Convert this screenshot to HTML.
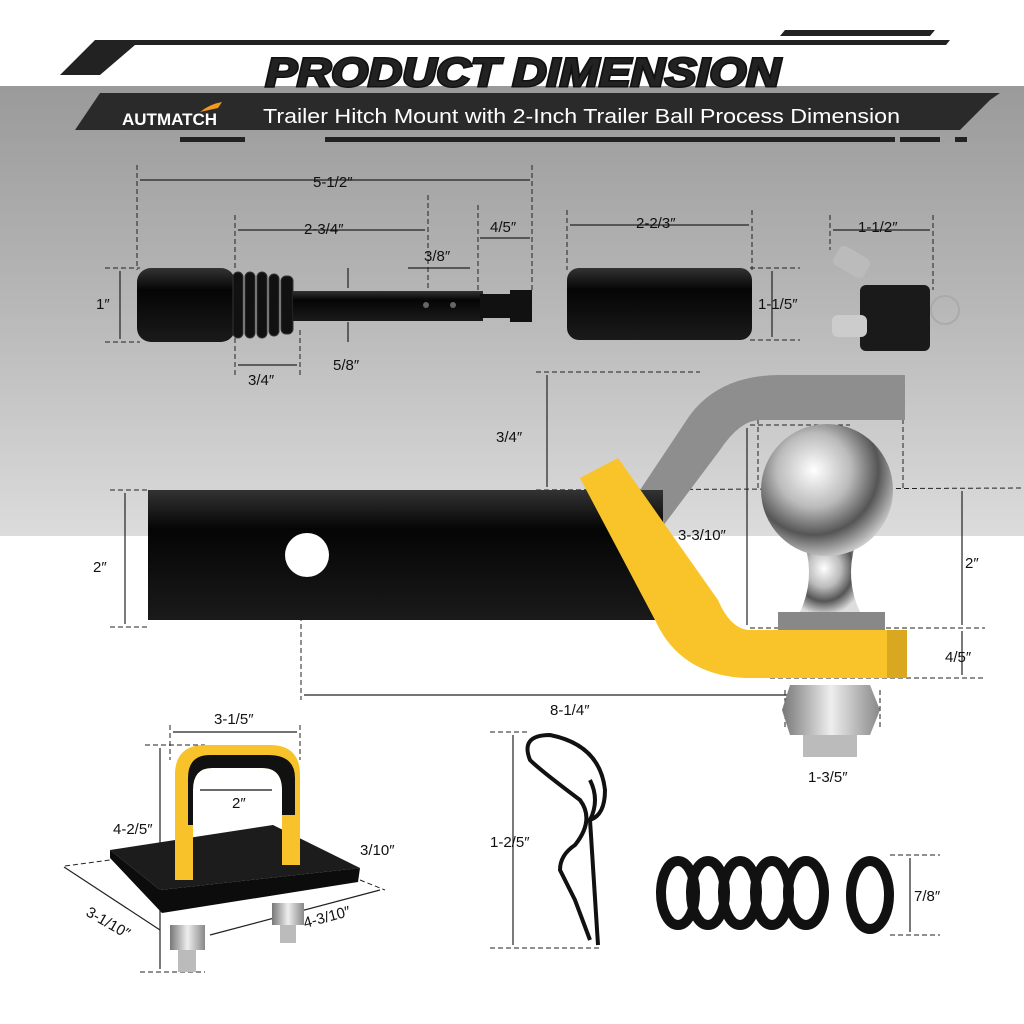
<!DOCTYPE html>
<html><head><meta charset="utf-8"><style>
html,body{margin:0;padding:0;background:#fff}
svg{display:block}
text{font-family:"Liberation Sans",sans-serif}
</style></head><body>
<svg width="1024" height="1024" viewBox="0 0 1024 1024" xmlns="http://www.w3.org/2000/svg">
<defs>
<linearGradient id="bg" x1="0" y1="0" x2="0" y2="1">
<stop offset="0" stop-color="#9a9a9a"/><stop offset="0.5" stop-color="#b8b8b8"/><stop offset="1" stop-color="#dcdcdc"/></linearGradient>
<radialGradient id="ball" cx="0.4" cy="0.35" r="0.7"><stop offset="0" stop-color="#fff"/><stop offset="0.4" stop-color="#bbb"/><stop offset="0.7" stop-color="#555"/><stop offset="1" stop-color="#ddd"/></radialGradient>
<linearGradient id="blk" x1="0" y1="0" x2="0" y2="1"><stop offset="0" stop-color="#333"/><stop offset="0.3" stop-color="#050505"/><stop offset="1" stop-color="#1a1a1a"/></linearGradient>
<linearGradient id="nut" x1="0" y1="0" x2="1" y2="0"><stop offset="0" stop-color="#777"/><stop offset="0.5" stop-color="#eee"/><stop offset="1" stop-color="#888"/></linearGradient>
</defs>
<rect x="0" y="86" width="1024" height="450" fill="url(#bg)"/>
<polygon points="60,75 95,40 950,40 946,45 135,45 100,75" fill="#222"/>
<polygon points="780,36 785,30 935,30 930,36" fill="#222"/>
<polygon points="75,130 100,93 1000,93 990,100 960,130" fill="#2a2a2a"/>
<rect x="180" y="137" width="65" height="5" fill="#222"/>
<rect x="325" y="137" width="570" height="5" fill="#222"/>
<rect x="900" y="137" width="40" height="5" fill="#222"/>
<rect x="955" y="137" width="12" height="5" fill="#222"/>
<text x="523" y="86" text-anchor="middle" font-size="40" font-weight="bold" font-style="italic" fill="#111" stroke="#111" stroke-width="3" textLength="515" lengthAdjust="spacingAndGlyphs">PRODUCT DIMENSION</text>
<text x="523" y="86" text-anchor="middle" font-size="40" font-weight="bold" font-style="italic" fill="#222" textLength="515" lengthAdjust="spacingAndGlyphs">PRODUCT DIMENSION</text>
<text x="122" y="125" font-size="17" font-weight="bold" fill="#fff">AUTMATCH</text>
<path d="M200,112 q10,-8 22,-10 l-4,6 z" fill="#f39a1e"/>
<text x="263" y="123" font-size="20" fill="#fff" textLength="637" lengthAdjust="spacingAndGlyphs">Trailer Hitch Mount with 2-Inch Trailer Ball Process Dimension</text>

<g stroke="#222" stroke-width="1" stroke-dasharray="5,3" fill="none">
<line x1="137" y1="165" x2="137" y2="270"/><line x1="532" y1="165" x2="532" y2="290"/>
<line x1="235" y1="215" x2="235" y2="270"/><line x1="428" y1="195" x2="428" y2="290"/>
<line x1="478" y1="205" x2="478" y2="290"/>
<line x1="105" y1="268" x2="140" y2="268"/><line x1="105" y1="342" x2="140" y2="342"/>
<line x1="235" y1="330" x2="235" y2="375"/><line x1="300" y1="330" x2="300" y2="375"/>
<line x1="567" y1="210" x2="567" y2="270"/><line x1="752" y1="210" x2="752" y2="270"/>
<line x1="750" y1="268" x2="800" y2="268"/><line x1="750" y1="340" x2="800" y2="340"/>
<line x1="830" y1="215" x2="830" y2="250"/><line x1="933" y1="215" x2="933" y2="290"/>
<line x1="536" y1="372" x2="700" y2="372"/><line x1="536" y1="490" x2="1024" y2="488"/>
<line x1="110" y1="490" x2="150" y2="490"/><line x1="110" y1="627" x2="150" y2="627"/>
<line x1="758" y1="395" x2="758" y2="488"/><line x1="903" y1="395" x2="903" y2="488"/>
<line x1="750" y1="425" x2="850" y2="425"/>
<line x1="750" y1="628" x2="985" y2="628"/>
<line x1="770" y1="678" x2="985" y2="678"/>
<line x1="301" y1="560" x2="301" y2="700"/>
<line x1="785" y1="690" x2="785" y2="730"/><line x1="880" y1="690" x2="880" y2="730"/>
<line x1="490" y1="732" x2="530" y2="732"/><line x1="490" y1="948" x2="600" y2="948"/>
<line x1="890" y1="855" x2="940" y2="855"/><line x1="890" y1="935" x2="940" y2="935"/>
<line x1="170" y1="725" x2="170" y2="760"/><line x1="300" y1="725" x2="300" y2="760"/>
<line x1="145" y1="745" x2="205" y2="745"/><line x1="140" y1="972" x2="205" y2="972"/>
<line x1="65" y1="866" x2="110" y2="860"/><line x1="360" y1="880" x2="385" y2="890"/>
</g>
<g stroke="#222" stroke-width="1.2" fill="none">
<line x1="140" y1="180" x2="530" y2="180"/><line x1="238" y1="230" x2="425" y2="230"/>
<line x1="480" y1="238" x2="530" y2="238"/><line x1="408" y1="268" x2="470" y2="268"/>
<line x1="120" y1="271" x2="120" y2="339"/><line x1="238" y1="365" x2="297" y2="365"/>
<line x1="348" y1="268" x2="348" y2="288"/><line x1="348" y1="322" x2="348" y2="342"/>
<line x1="570" y1="225" x2="749" y2="225"/><line x1="772" y1="271" x2="772" y2="337"/>
<line x1="833" y1="230" x2="930" y2="230"/>
<line x1="547" y1="375" x2="547" y2="487"/><line x1="125" y1="493" x2="125" y2="624"/>
<line x1="761" y1="405" x2="900" y2="405"/><line x1="747" y1="428" x2="747" y2="625"/>
<line x1="962" y1="491" x2="962" y2="625"/><line x1="962" y1="631" x2="962" y2="675"/>
<line x1="304" y1="695" x2="830" y2="695"/>
<line x1="513" y1="735" x2="513" y2="945"/><line x1="910" y1="858" x2="910" y2="932"/>
<line x1="173" y1="732" x2="297" y2="732"/><line x1="160" y1="748" x2="160" y2="969"/>
<line x1="200" y1="790" x2="272" y2="790" stroke="#111"/>
<line x1="64" y1="867" x2="160" y2="930"/><line x1="210" y1="935" x2="380" y2="890"/>
</g>
<g font-size="15" fill="#111">
<text x="313" y="187">5-1/2″</text><text x="304" y="234">2-3/4″</text>
<text x="490" y="232">4/5″</text><text x="424" y="261">3/8″</text>
<text x="96" y="309">1″</text><text x="248" y="385">3/4″</text><text x="333" y="370">5/8″</text>
<text x="636" y="228">2-2/3″</text><text x="758" y="309">1-1/5″</text><text x="858" y="232">1-1/2″</text>
<text x="496" y="442">3/4″</text><text x="93" y="572">2″</text>
<text x="822" y="400">2″</text><text x="678" y="540">3-3/10″</text>
<text x="965" y="568">2″</text><text x="945" y="662">4/5″</text>
<text x="550" y="715">8-1/4″</text><text x="808" y="782">1-3/5″</text>
<text x="490" y="847">1-2/5″</text><text x="914" y="901">7/8″</text>
<text x="214" y="724">3-1/5″</text><text x="113" y="834">4-2/5″</text>
<text x="232" y="808">2″</text><text x="360" y="855">3/10″</text>
<text x="85" y="915" transform="rotate(30 85 915)">3-1/10″</text>
<text x="305" y="928" transform="rotate(-15 305 928)">4-3/10″</text>
</g>
<rect x="137" y="268" width="98" height="74" rx="14" fill="url(#blk)"/>
<g fill="#111" stroke="#333"><rect x="233" y="272" width="10" height="66" rx="5"/><rect x="245" y="272" width="10" height="66" rx="5"/><rect x="257" y="272" width="10" height="66" rx="5"/><rect x="269" y="274" width="10" height="62" rx="5"/><rect x="281" y="276" width="12" height="58" rx="5"/></g>
<rect x="293" y="291" width="190" height="30" fill="url(#blk)"/>
<rect x="480" y="294" width="30" height="24" fill="#111"/><rect x="510" y="290" width="22" height="32" fill="#111"/>
<circle cx="426" cy="305" r="3" fill="#666"/><circle cx="453" cy="305" r="3" fill="#666"/>
<rect x="567" y="268" width="185" height="72" rx="12" fill="url(#blk)"/>
<rect x="860" y="285" width="70" height="66" rx="6" fill="#1a1a1a"/>
<circle cx="945" cy="310" r="14" fill="none" stroke="#aaa" stroke-width="2"/>
<rect x="835" y="250" width="35" height="22" rx="6" fill="#bbb" transform="rotate(30 850 260)"/>
<rect x="832" y="315" width="35" height="22" rx="6" fill="#ccc"/>
<path d="M640,490 L690,415 Q720,375 780,375 L905,375 L905,420 L760,420 Q740,420 720,450 L660,530 Z" fill="#8e8e8e"/>
<rect x="148" y="490" width="515" height="130" fill="url(#blk)"/>
<circle cx="307" cy="555" r="22" fill="#fff"/>
<rect x="778" y="612" width="107" height="18" fill="#888"/>
<path d="M805,545 Q815,580 800,612 L860,612 Q845,580 855,545 Z" fill="url(#ball)"/>
<circle cx="827" cy="490" r="66" fill="url(#ball)"/>
<path d="M580,478 L618,458 L718,600 Q730,628 748,630 L907,630 L907,678 L745,678 Q680,675 655,620 Z" fill="#f9c429"/>
<rect x="887" y="630" width="20" height="48" fill="#d9a820"/>
<path d="M790,685 L870,685 L880,710 L870,735 L790,735 L782,710Z" fill="url(#nut)"/>
<rect x="803" y="735" width="54" height="22" fill="#bbb"/>
<polygon points="110,850 273,825 360,868 160,890" fill="#1c1c1c"/>
<polygon points="110,850 160,890 360,868 358,882 162,913 110,858" fill="#0c0c0c"/>
<path d="M175,880 L175,775 Q175,745 205,745 L270,745 Q300,745 300,775 L300,865 L282,865 L282,790 Q282,768 262,768 L212,768 Q193,768 193,790 L193,880 Z" fill="#f7c22a"/>
<path d="M188,825 L188,778 Q188,755 210,755 L268,755 Q295,755 295,778 L295,815 L282,815 L282,790 Q282,768 262,768 L212,768 Q193,768 193,790 L193,825Z" fill="#111"/>
<rect x="170" y="925" width="35" height="25" fill="url(#nut)"/><rect x="178" y="950" width="18" height="22" fill="#bbb"/>
<rect x="272" y="903" width="32" height="22" fill="url(#nut)"/><rect x="280" y="925" width="16" height="18" fill="#bbb"/>
<path d="M590,940 L575,900 L560,870 Q560,855 575,845 Q595,820 580,800 Q540,770 530,760 Q520,735 550,735 Q600,745 605,790 Q605,815 590,820 Q600,800 590,780" fill="none" stroke="#111" stroke-width="4"/>
<line x1="590" y1="820" x2="598" y2="945" stroke="#111" stroke-width="4"/>
<g fill="none" stroke="#111" stroke-width="10">
<ellipse cx="678" cy="893" rx="17" ry="32"/><ellipse cx="708" cy="893" rx="17" ry="32"/><ellipse cx="740" cy="893" rx="17" ry="32"/><ellipse cx="772" cy="893" rx="17" ry="32"/><ellipse cx="806" cy="893" rx="18" ry="32"/>
<ellipse cx="870" cy="895" rx="19" ry="34"/></g>
</svg>
</body></html>
